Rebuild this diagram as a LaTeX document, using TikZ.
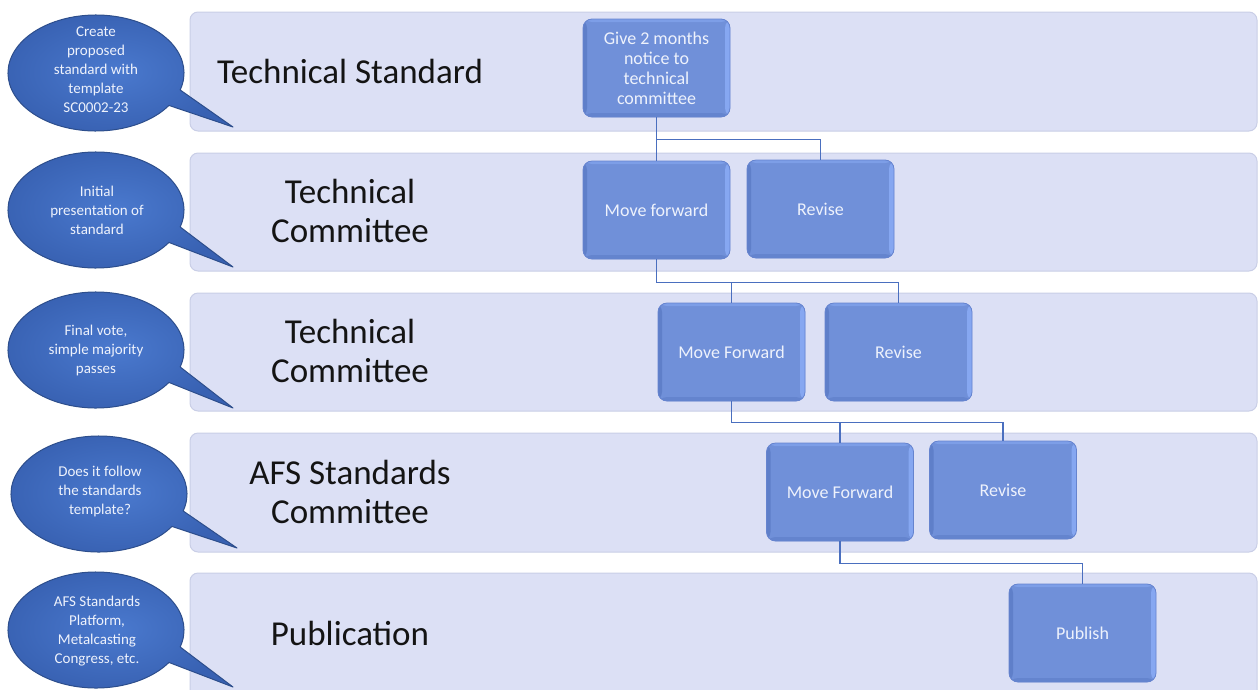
\documentclass[tikz,border=0pt]{standalone}
\usepackage{fontspec}
\setmainfont{Carlito}
\usetikzlibrary{shapes.geometric}
\definecolor{lanefill}{HTML}{DCE0F5}
\definecolor{laneedge}{HTML}{C9CEE6}
\definecolor{boxfill}{HTML}{7090D9}
\definecolor{boxlight}{HTML}{86A7F1}
\definecolor{boxdark}{HTML}{5F7FC9}
\definecolor{boxedge}{HTML}{6684CF}
\definecolor{boxtext}{HTML}{EEF2FC}
\definecolor{conncol}{HTML}{4A6FBF}
\definecolor{bubin}{HTML}{4A79CE}
\definecolor{bubout}{HTML}{3861B2}
\definecolor{bubedge}{HTML}{2D4E8C}
\begin{document}
\begin{tikzpicture}[x=1pt,y=-1pt,
  lane/.style={rounded corners=8pt, fill=lanefill, draw=laneedge, line width=1pt, minimum width=1067pt, inner sep=0pt},
  lanetitle/.style={font=\fontsize{35}{39}\selectfont, align=center, text=black!92},
  box/.style={rounded corners=9pt, minimum width=147pt, minimum height=98pt, fill=boxfill, draw=boxedge, line width=0.8pt,
    text=boxtext, font=\fontsize{18}{20}\selectfont, align=center, inner sep=2pt,
    path picture={
      \fill[boxlight] ([xshift=-5pt]path picture bounding box.north east) rectangle (path picture bounding box.south east);
      \fill[boxdark] (path picture bounding box.north west) rectangle ([xshift=4pt]path picture bounding box.south west);
      \fill[boxdark!70!boxfill] ([yshift=4pt]path picture bounding box.south west) rectangle (path picture bounding box.south east);
      \fill[boxlight!60!boxfill] ([yshift=-3pt]path picture bounding box.north west) rectangle (path picture bounding box.north east);
    }},
  conn/.style={draw=conncol, line width=1.5pt},
  bubble/.style={inner color=bubin, outer color=bubout, draw=bubedge, line width=1pt, line join=round},
  btext/.style={text=boxtext, font=\fontsize{15}{19}\selectfont, align=center},
]
\useasboundingbox (0,0) rectangle (1258,689);
\clip (0,0) rectangle (1258,689);

% lanes
\node[lane, minimum height=119pt] (L1) at (723.5,71.5) {};
\node[lane, minimum height=118pt] (L2) at (723.5,212) {};
\node[lane, minimum height=118pt] (L3) at (723.5,352) {};
\node[lane, minimum height=119pt] (L4) at (723.5,492.5) {};
\node[lane, minimum height=134pt] (L5) at (723.5,640) {};

% lane titles
\node[lanetitle] (T1) at (350,71) {Technical Standard};
\node[lanetitle] (T2) at (350,211) {Technical\\Committee};
\node[lanetitle] (T3) at (350,351) {Technical\\Committee};
\node[lanetitle] (T4) at (350,492) {AFS Standards\\Committee};
\node[lanetitle] (T5) at (350,633) {Publication};

% bubbles
\coordinate (c1) at (96,73);  \coordinate (p1) at (233,127);
\coordinate (c2) at (96,210); \coordinate (p2) at (233,267);
\coordinate (c3) at (96,350); \coordinate (p3) at (233,408);
\coordinate (c4) at (99,494); \coordinate (p4) at (237,548);
\coordinate (c5) at (96,630); \coordinate (p5) at (233,687);
\foreach \i in {1,...,5}{
  \shade[bubble] (c\i) ++(-17:88pt and 58pt) arc[start angle=-17, end angle=326, x radius=88pt, y radius=58pt] -- (p\i) -- cycle;
}
\node[btext] (B1) at (96,70) {Create\\proposed\\standard with\\template\\SC0002-23};
\node[btext] (B2) at (97,210) {Initial\\presentation of\\standard};
\node[btext] (B3) at (96,350) {Final vote,\\simple majority\\passes};
\node[btext] (B4) at (100,491) {Does it follow\\the standards\\template?};
\node[btext] (B5) at (97,631) {AFS Standards\\Platform,\\Metalcasting\\Congress, etc.};

% boxes
\node[box] (A) at (656.5,68) {Give 2 months\\notice to\\technical\\committee};
\node[box] (MF1) at (656.5,210) {Move forward};
\node[box] (RV1) at (820.5,209) {Revise};
\node[box] (MF2) at (731.5,352) {Move Forward};
\node[box] (RV2) at (898.5,352) {Revise};
\node[box] (MF3) at (840,492) {Move Forward};
\node[box] (RV3) at (1003,490) {Revise};
\node[box] (PB) at (1082.5,633) {Publish};

% connectors
\draw[conn] (A.south) -- (MF1.north);
\draw[conn] (A.south) ++(0,22) -| (RV1.north);
\draw[conn] (MF1.south) -- ++(0,23) -| (MF2.north);
\draw[conn] (MF1.south) ++(0,23) -| (RV2.north);
\draw[conn] (MF2.south) -- ++(0,21) -| (MF3.north);
\draw[conn] (MF2.south) ++(0,21) -| (RV3.north);
\draw[conn] (MF3.south) -- ++(0,22) -| (PB.north);
\end{tikzpicture}
\end{document}
